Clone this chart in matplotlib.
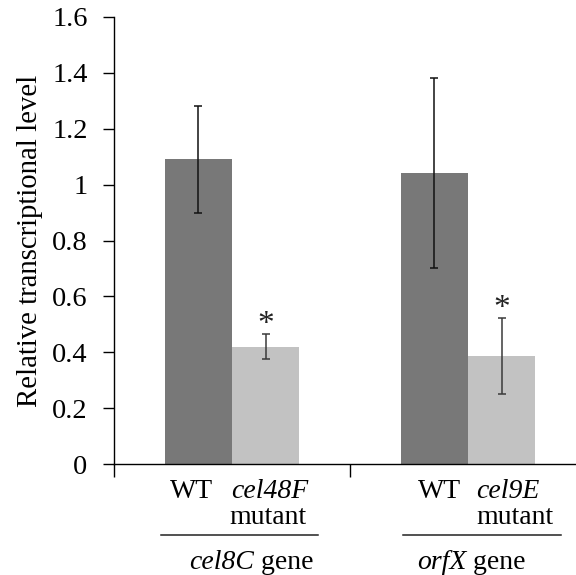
import matplotlib
matplotlib.use("Agg")
import matplotlib.pyplot as plt
import matplotlib.transforms as mtransforms

plt.rcParams['font.family'] = ['Liberation Serif', 'DejaVu Serif']

# Data
genes = ["cel8C", "orfX"]
mutants = ["cel48F", "cel9E"]
wt_values = [1.09, 1.04]
wt_errors = [0.19, 0.34]
mut_values = [0.42, 0.387]
mut_errors = [0.045, 0.135]
star_levels = [0.468, 0.527]
yticks = [0, 0.2, 0.4, 0.6, 0.8, 1, 1.2, 1.4, 1.6]
ytick_labels = ["0", "0.2", "0.4", "0.6", "0.8", "1", "1.2", "1.4", "1.6"]

W, H = 576, 575
fig = plt.figure(figsize=(W / 100, H / 100), dpi=100)
ax = fig.add_axes([114 / W, (H - 464) / H, (W - 114) / W, 447 / H])

bw = 0.285
wt_x = [i + 0.5 - bw / 2 for i in range(len(genes))]
mut_x = [i + 0.5 + bw / 2 for i in range(len(genes))]

ax.bar(wt_x, wt_values, width=bw, color="#787878", zorder=2)
ax.bar(mut_x, mut_values, width=bw, color="#c2c2c2", zorder=2)
ax.errorbar(wt_x, wt_values, yerr=wt_errors, fmt="none", ecolor="#111111",
            elinewidth=1.1, capsize=2.6, capthick=1.1, zorder=3)
ax.errorbar(mut_x, mut_values, yerr=mut_errors, fmt="none", ecolor="#3a3a3a",
            elinewidth=1.1, capsize=2.6, capthick=1.1, zorder=3)
for x, s in zip(mut_x, star_levels):
    ax.text(x, s, "*", ha="center", va="baseline", fontsize=24, color="#222222")

ax.set_xlim(0, (W - 114) / 236)
ax.set_ylim(0, 1.6)
ax.set_yticks(yticks)
ax.set_yticklabels(ytick_labels)
ax.set_xticks([0, 1])
ax.set_xticklabels([])
ax.tick_params(axis="y", direction="out", length=8, width=1, labelsize=20.5, pad=11)
ax.tick_params(axis="x", direction="out", length=9, width=1)
for s in ["top", "right"]:
    ax.spines[s].set_visible(False)
for s in ["left", "bottom"]:
    ax.spines[s].set_linewidth(1)
ax.set_ylabel("Relative transcriptional level", fontsize=20.7)
ax.yaxis.set_label_coords(-(114 - 43) / 462, 0.5)

trans = mtransforms.blended_transform_factory(ax.transData, fig.transFigure)
def fy(py):
    return 1 - py / H

fs = 20
wt_left = [0.237, 1.288]
mutname_left = [0.496, 1.534]
mutant_left = [0.487, 1.534]
line_span = [(0.199, 0.864), (1.225, 1.894)]
gene_left = [0.318, 1.284]
for i in range(len(genes)):
    ax.text(wt_left[i], fy(498), "WT", transform=trans, ha="left", va="baseline", fontsize=fs)
    ax.text(mutname_left[i], fy(498), mutants[i], transform=trans, ha="left", va="baseline",
            fontsize=fs, style="italic")
    ax.text(mutant_left[i], fy(524), "mutant", transform=trans, ha="left", va="baseline", fontsize=fs)
    ax.plot(line_span[i], [fy(535), fy(535)], transform=trans, color="#222222", lw=1.1, clip_on=False)
    t = ax.text(gene_left[i], fy(569), genes[i], transform=trans, ha="left", va="baseline",
                fontsize=fs, style="italic")
    ax.annotate(" gene", xy=(1, 0), xycoords=t, ha="left", va="bottom", fontsize=fs,
                annotation_clip=False)

fig.savefig("out.png", dpi=100)
